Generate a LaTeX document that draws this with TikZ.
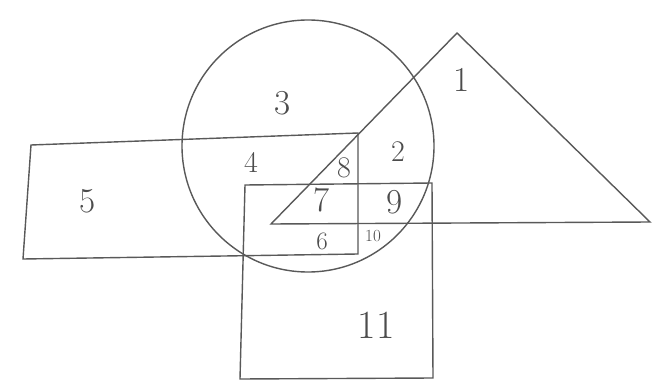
\documentclass[tikz,border=0pt]{standalone}
\usepackage{tikz}
\begin{document}
\begin{tikzpicture}[x=1pt,y=-1pt,
  shape line/.style={draw=black!65, line width=1.4pt, line join=miter},
  lab/.style={text=black!70, inner sep=0pt},
  big/.style={lab, font=\fontsize{35}{35}\selectfont},
  mid/.style={lab, font=\fontsize{30}{30}\selectfont},
  small/.style={lab, font=\fontsize{25}{25}\selectfont},
  tiny/.style={lab, font=\fontsize{17}{17}\selectfont}]
\useasboundingbox[fill=white] (0,0) rectangle (656,385);
% circle
\coordinate (cc) at (308,146);
\draw[shape line] (cc) circle[radius=126];
% triangle
\coordinate (ta) at (457,33);
\coordinate (tr) at (650,222);
\coordinate (tl) at (271,224);
\draw[shape line] (tl) -- (ta) -- (tr) -- cycle;
% wide rectangle
\coordinate (ra) at (31,145);
\coordinate (rb) at (358,133);
\coordinate (rc) at (358,254);
\coordinate (rd) at (23,259);
\draw[shape line] (ra) -- (rb) -- (rc) -- (rd) -- cycle;
% square
\coordinate (sa) at (245,185);
\coordinate (sb) at (432,183);
\coordinate (sc) at (433,378);
\coordinate (sd) at (240,379);
\draw[shape line] (sa) -- (sb) -- (sc) -- (sd) -- cycle;
% labels
\node[big] (l1) at (462,80) {1};
\node[mid] (l2) at (398,152) {2};
\node[big] (l3) at (283,103) {3};
\node[mid] (l4) at (251,162) {4};
\node[big] (l5) at (88,201) {5};
\node[small] (l6) at (322,241) {6};
\node[big] (l7) at (322,200) {7};
\node[mid] (l8) at (344,168) {8};
\node[big] (l9) at (395,202) {9};
\node[tiny] (l10) at (373,236) {10};
\node[font=\fontsize{40}{40}\selectfont, text=black!70, inner sep=0pt] (l11) at (376,325) {11};
\end{tikzpicture}
\end{document}
